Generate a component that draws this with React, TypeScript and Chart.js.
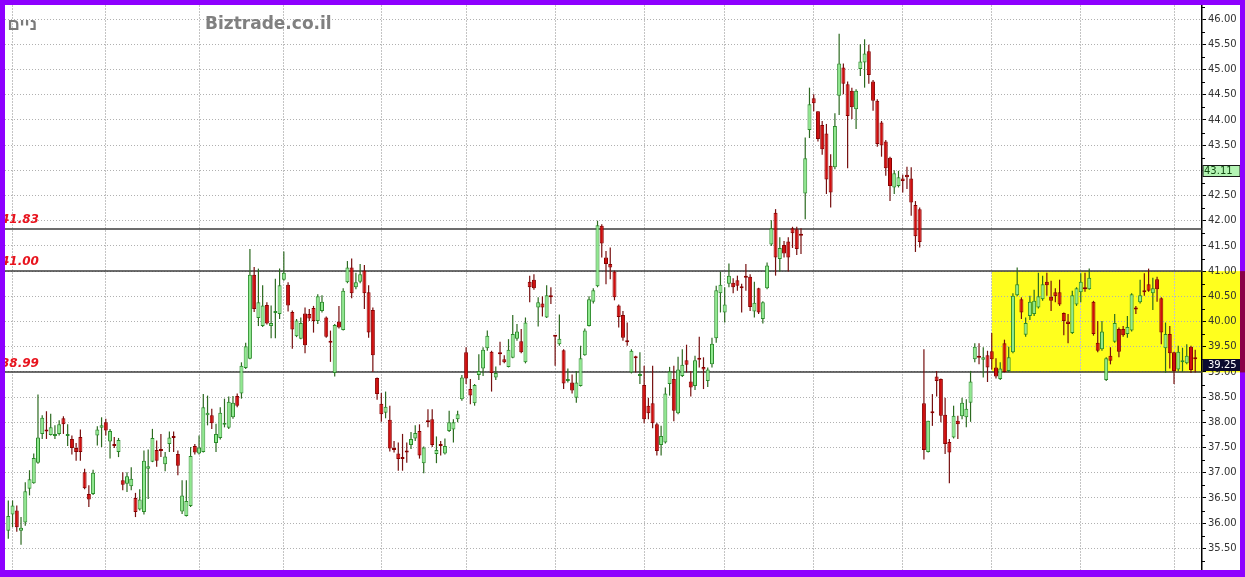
import { useEffect, useRef } from 'react';
import { Chart, registerables } from 'chart.js';

Chart.register(...registerables);

// Daily OHLC (index 0 = first session shown)
const opens = [
  35.85, 36.17, 36.25, 35.85, 36.01, 36.68, 36.79, 37.20, 37.77, 37.85, 37.75, 37.73, 37.77, 38.08, 37.73, 37.67, 37.49, 37.71, 37.01, 36.58,
  36.58, 37.74, 37.89, 38.00, 37.62, 37.56, 37.41, 36.85, 36.78, 36.73, 36.50, 36.27, 36.22, 37.08, 37.22, 37.45, 37.45, 37.17, 37.57, 37.70,
  37.37, 36.23, 36.14, 36.34, 37.53, 37.38, 37.41, 38.14, 38.14, 37.59, 37.69, 37.95, 37.89, 38.10, 38.52, 38.57, 39.08, 39.26, 40.93, 40.07,
  39.91, 40.33, 39.91, 40.17, 40.15, 40.83, 40.73, 40.19, 39.71, 39.66, 40.16, 40.15, 40.27, 40.01, 40.21, 40.08, 39.59, 38.98, 40.00, 39.83,
  40.78, 41.07, 40.68, 40.79, 41.01, 40.58, 40.23, 38.88, 38.37, 38.19, 38.05, 37.48, 37.38, 37.30, 37.41, 37.55, 37.68, 37.83, 37.19, 38.02,
  38.06, 37.37, 37.54, 37.38, 37.83, 37.86, 38.06, 38.46, 39.39, 38.66, 38.38, 38.94, 39.07, 39.47, 39.40, 38.89, 39.36, 39.25, 39.10, 39.28,
  39.66, 39.61, 39.19, 40.79, 40.83, 40.28, 40.36, 40.08, 40.49, 39.71, 39.55, 39.43, 38.82, 38.79, 38.49, 38.72, 39.33, 39.91, 40.39, 40.70,
  41.90, 41.27, 41.14, 40.99, 40.32, 40.13, 39.60, 38.99, 39.31, 38.92, 38.74, 38.33, 38.38, 37.96, 37.55, 37.60, 38.76, 38.86, 38.18, 38.92,
  39.23, 38.81, 38.72, 39.25, 39.10, 38.82, 39.15, 39.67, 40.56, 40.18, 40.75, 40.77, 40.82, 40.67, 40.91, 40.89, 40.20, 40.66, 40.05, 40.66,
  41.53, 42.16, 41.24, 41.52, 41.59, 41.85, 41.83, 41.71, 42.54, 43.80, 44.43, 44.17, 43.90, 43.73, 43.09, 43.06, 44.48, 45.04, 44.71, 44.58,
  44.21, 45.01, 45.14, 45.36, 44.76, 44.38, 43.95, 43.57, 43.25, 42.66, 42.69, 42.84, 42.91, 42.84, 42.31, 42.23, 38.38, 37.41, 38.19, 38.91,
  38.86, 38.15, 37.61, 37.70, 38.03, 38.12, 38.10, 38.39, 39.25, 39.29, 39.24, 39.33, 39.41, 39.09, 38.86, 39.57, 39.02, 39.39, 40.52, 40.44,
  39.74, 40.11, 40.15, 40.28, 40.44, 40.79, 40.49, 40.58, 40.58, 40.17, 40.00, 39.77, 40.34, 40.58, 40.65, 40.64, 40.39, 39.58, 39.45, 38.84,
  39.32, 39.60, 39.85, 39.85, 39.75, 39.82, 40.25, 40.38, 40.61, 40.74, 40.56, 40.84, 40.46, 39.47, 39.75, 39.39, 39.05, 39.19, 39.17, 39.50,
  39.26,
];
const highs = [
  36.45, 36.45, 36.35, 36.12, 36.81, 37.05, 37.38, 38.55, 38.14, 38.22, 38.17, 37.94, 38.04, 38.12, 37.96, 37.74, 37.59, 37.86, 37.08, 36.75,
  37.06, 37.92, 38.10, 38.07, 37.87, 37.71, 37.69, 37.01, 37.01, 37.11, 36.60, 36.67, 37.44, 37.46, 37.87, 37.64, 37.77, 37.41, 37.82, 37.82,
  37.44, 36.85, 36.85, 37.51, 37.57, 37.74, 38.56, 38.53, 38.27, 37.97, 38.30, 38.47, 38.51, 38.52, 38.57, 39.19, 39.58, 41.44, 41.08, 41.05,
  40.72, 40.38, 40.32, 40.85, 41.05, 41.39, 40.78, 40.22, 40.05, 40.08, 40.28, 40.25, 40.31, 40.54, 40.52, 40.10, 39.82, 39.95, 40.31, 40.66,
  41.20, 41.25, 40.97, 41.14, 41.12, 40.72, 40.28, 38.89, 38.58, 38.61, 38.33, 37.63, 37.60, 37.77, 37.60, 37.81, 37.94, 37.96, 37.52, 38.26,
  38.26, 37.72, 37.63, 37.68, 38.23, 38.06, 38.23, 38.94, 39.49, 38.86, 38.76, 39.35, 39.49, 39.82, 39.42, 39.11, 39.60, 39.33, 39.65, 40.13,
  39.95, 39.85, 40.08, 40.91, 40.94, 40.48, 40.50, 40.72, 40.68, 39.73, 40.14, 39.45, 39.07, 38.95, 39.02, 39.52, 39.86, 40.50, 40.66, 42.00,
  41.93, 41.40, 41.47, 41.01, 40.34, 40.21, 39.98, 39.45, 39.32, 39.39, 39.12, 38.49, 39.12, 37.99, 37.93, 38.69, 39.10, 39.12, 39.30, 39.45,
  39.54, 39.02, 39.32, 39.70, 39.29, 39.09, 39.68, 40.71, 40.99, 40.68, 41.15, 40.86, 40.91, 40.75, 41.14, 40.94, 40.79, 40.67, 40.40, 41.17,
  42.01, 42.23, 41.67, 41.60, 41.67, 41.88, 41.88, 41.85, 43.65, 44.64, 44.51, 44.17, 43.98, 43.92, 43.32, 44.13, 45.71, 45.12, 44.76, 44.64,
  44.61, 45.50, 45.60, 45.49, 44.79, 44.41, 43.98, 43.60, 43.27, 43.00, 42.99, 42.91, 43.07, 43.06, 42.39, 42.26, 39.45, 38.03, 38.56, 39.02,
  38.87, 38.49, 37.67, 38.33, 38.13, 38.49, 38.46, 39.02, 39.57, 39.57, 39.49, 39.42, 39.77, 39.27, 39.19, 39.64, 39.50, 40.56, 41.07, 40.48,
  40.08, 40.51, 40.63, 40.97, 40.91, 40.97, 40.81, 40.66, 40.83, 40.18, 40.15, 40.61, 40.68, 40.96, 40.97, 41.05, 40.41, 40.01, 40.01, 39.29,
  39.49, 40.15, 39.88, 39.91, 40.11, 40.56, 40.31, 40.83, 40.96, 41.05, 40.87, 40.89, 40.48, 39.98, 39.91, 39.40, 39.52, 39.48, 39.55, 39.52,
  39.44,
];
const lows = [
  35.69, 35.92, 35.83, 35.57, 35.95, 36.55, 36.78, 37.18, 37.67, 37.67, 37.74, 37.67, 37.74, 37.77, 37.53, 37.36, 37.24, 37.24, 36.67, 36.32,
  36.56, 37.54, 37.51, 37.74, 37.28, 37.49, 37.31, 36.65, 36.62, 36.65, 36.12, 36.25, 36.17, 36.48, 37.21, 37.12, 37.31, 37.03, 37.41, 37.41,
  36.95, 36.18, 36.13, 36.32, 37.36, 37.36, 37.40, 37.94, 37.87, 37.41, 37.66, 37.90, 37.87, 38.07, 38.30, 38.47, 39.06, 39.25, 40.19, 39.91,
  39.89, 39.94, 39.67, 39.67, 40.05, 40.81, 40.20, 39.46, 39.69, 39.65, 39.37, 40.01, 39.78, 39.95, 40.18, 39.68, 39.20, 38.91, 39.86, 39.82,
  40.76, 40.46, 40.64, 40.76, 40.25, 39.68, 39.00, 38.45, 38.01, 38.08, 37.42, 37.40, 37.04, 37.04, 37.20, 37.47, 37.63, 37.28, 36.99, 37.90,
  37.51, 37.19, 37.34, 37.36, 37.81, 37.60, 38.00, 38.43, 38.76, 38.36, 38.33, 38.84, 38.92, 39.42, 38.61, 38.84, 39.13, 39.17, 39.09, 39.27,
  39.62, 39.37, 39.17, 40.38, 40.63, 39.90, 40.10, 40.07, 40.35, 39.12, 39.52, 38.66, 38.79, 38.57, 38.39, 38.71, 39.32, 39.90, 40.36, 40.68,
  41.27, 40.74, 40.84, 40.42, 39.88, 39.62, 39.52, 38.97, 38.99, 38.76, 37.98, 38.06, 37.88, 37.34, 37.34, 37.58, 38.53, 38.02, 38.16, 38.90,
  38.99, 38.51, 38.64, 39.09, 38.66, 38.70, 39.09, 39.58, 40.18, 39.98, 40.68, 40.56, 40.61, 40.18, 40.61, 40.21, 40.08, 40.15, 39.96, 40.64,
  41.50, 40.91, 40.99, 41.27, 40.99, 41.46, 41.32, 41.34, 42.03, 43.64, 44.17, 43.57, 43.31, 42.53, 42.26, 43.02, 44.10, 44.51, 43.04, 44.02,
  43.82, 44.87, 44.64, 44.72, 44.18, 43.47, 43.27, 42.89, 42.39, 42.53, 42.66, 42.56, 42.63, 42.10, 41.38, 41.47, 37.26, 37.40, 37.93, 38.51,
  38.00, 37.37, 36.79, 37.68, 37.67, 38.06, 37.90, 38.01, 39.19, 39.15, 38.89, 38.80, 39.05, 38.87, 38.84, 38.99, 39.00, 39.37, 40.50, 40.05,
  39.70, 40.03, 40.11, 40.26, 40.41, 40.51, 40.21, 40.38, 40.31, 39.73, 39.57, 39.75, 40.31, 40.38, 40.59, 40.63, 39.72, 39.39, 39.42, 38.82,
  39.15, 39.58, 39.29, 39.70, 39.68, 39.80, 40.15, 40.36, 40.51, 40.59, 40.23, 40.39, 39.55, 38.98, 39.07, 38.76, 39.02, 39.00, 39.15, 38.98,
  38.99,
];
const closes = [
  36.14, 36.35, 35.92, 35.91, 36.63, 36.87, 37.29, 37.70, 38.09, 37.82, 37.90, 37.77, 37.96, 37.96, 37.75, 37.49, 37.41, 37.41, 36.69, 36.47,
  37.00, 37.86, 37.94, 37.84, 37.83, 37.53, 37.65, 36.76, 36.93, 36.88, 36.22, 36.47, 37.24, 37.13, 37.69, 37.24, 37.43, 37.32, 37.70, 37.69,
  37.14, 36.55, 36.44, 37.33, 37.40, 37.50, 38.30, 38.19, 37.98, 37.77, 38.19, 37.98, 38.41, 38.39, 38.33, 39.12, 39.51, 40.93, 40.25, 40.38,
  40.32, 39.96, 39.97, 40.20, 40.72, 40.97, 40.32, 39.84, 40.02, 39.97, 39.53, 40.06, 40.01, 40.50, 40.39, 39.70, 39.58, 39.93, 39.88, 40.61,
  41.07, 40.56, 40.78, 40.94, 40.56, 39.78, 39.33, 38.56, 38.16, 38.31, 37.48, 37.45, 37.27, 37.27, 37.40, 37.67, 37.79, 37.34, 37.50, 38.00,
  37.55, 37.45, 37.53, 37.53, 38.00, 38.00, 38.16, 38.89, 38.87, 38.53, 38.74, 39.02, 39.44, 39.72, 38.98, 38.98, 39.35, 39.19, 39.44, 39.75,
  39.80, 39.39, 39.98, 40.68, 40.66, 40.38, 40.28, 40.52, 40.48, 39.70, 39.66, 38.77, 38.84, 38.63, 38.79, 39.27, 39.82, 40.44, 40.62, 41.91,
  41.55, 41.14, 41.07, 40.48, 40.09, 39.68, 39.59, 39.42, 39.27, 38.96, 38.06, 38.18, 37.98, 37.43, 37.73, 38.57, 39.01, 38.23, 39.05, 39.14,
  39.14, 38.69, 39.23, 39.24, 39.05, 39.05, 39.56, 40.62, 40.73, 40.34, 40.91, 40.68, 40.71, 40.66, 40.87, 40.29, 40.37, 40.18, 40.38, 41.11,
  41.85, 41.27, 41.46, 41.35, 41.27, 41.75, 41.44, 41.70, 43.24, 44.31, 44.33, 43.62, 43.42, 42.82, 42.56, 43.88, 45.12, 44.72, 44.08, 44.25,
  44.58, 45.16, 45.32, 44.89, 44.38, 43.52, 43.49, 43.04, 42.69, 42.94, 42.86, 42.79, 42.86, 42.36, 41.69, 41.58, 37.45, 38.03, 38.18, 38.82,
  38.13, 37.57, 37.40, 38.13, 37.96, 38.39, 38.27, 38.81, 39.50, 39.28, 39.29, 39.09, 39.25, 38.91, 39.07, 39.00, 39.29, 40.51, 40.74, 40.18,
  39.97, 40.39, 40.41, 40.50, 40.74, 40.72, 40.41, 40.50, 40.34, 40.01, 39.95, 40.52, 40.66, 40.79, 40.64, 40.87, 39.75, 39.42, 39.80, 39.27,
  39.22, 39.97, 39.40, 39.73, 39.89, 40.54, 40.24, 40.52, 40.58, 40.61, 40.66, 40.64, 39.78, 39.75, 39.37, 39.02, 39.40, 39.21, 39.32, 39.04,
  39.25,
];

// First session of each month (vertical grid lines)
const monthStarts = [1, 23, 45, 65, 88, 108, 129, 150, 169, 190, 211, 232, 253, 275];

// Price axis
const yTicks = [35.5, 36, 36.5, 37, 37.5, 38, 38.5, 39, 39.5, 40, 40.5, 41, 41.5, 42, 42.5, 43, 43.5, 44, 44.5, 45, 45.5, 46];
const yMinorTicks = [35.25, 35.75, 36.25, 36.75, 37.25, 37.75, 38.25, 38.75, 39.25, 39.75, 40.25, 40.75, 41.25, 41.75, 42.25, 42.75, 43.25, 43.75, 44.25, 44.75, 45.25, 45.75, 46.25];

// Support / resistance levels
const levels = [41.83, 41.0, 38.99];
const levelLabels = ['41.83', '41.00', '38.99'];

// Highlighted trading range
const rangeStart = 232;
const rangeTop = 41.0;
const rangeBottom = 38.99;

// Price tags on the axis
const markerPrice = 43.11;
const lastPrice = 39.25;

const siteLabel = 'Biztrade.co.il';
const nameLabel = 'ניים';

const GREEN_FILL = '#8fe98f';
const GREEN_EDGE = '#2a8c2a';
const GREEN_WICK = '#2c6a20';
const RED_FILL = '#d00d0d';
const RED_EDGE = '#8a0000';
const RED_WICK = '#760f0f';
const PURPLE = '#8e00ff';

export default function App() {
  const ref = useRef<HTMLCanvasElement | null>(null);

  useEffect(() => {
    const canvas = ref.current;
    if (!canvas) return;

    const up = closes.map((c, i) => c >= opens[i]);
    const bodyData = opens.map((o, i) => ({ x: i, y: [o, closes[i]] }));
    const wickData = lows.map((l, i) => ({ x: i, y: [l, highs[i]] }));

    const decor = {
      id: 'decor',
      beforeDraw(chart: any) {
        const { ctx, scales } = chart;
        const x = scales.x;
        const y = scales.y;
        ctx.save();
        ctx.fillStyle = '#ffffff';
        ctx.fillRect(0, 0, chart.width, chart.height);
        const x0 = x.getPixelForValue(rangeStart);
        const yt = y.getPixelForValue(rangeTop);
        const yb = y.getPixelForValue(rangeBottom);
        ctx.fillStyle = '#ffff1e';
        ctx.fillRect(x0, yt, chart.width - x0, yb - yt);
        ctx.restore();
      },
      beforeDatasetsDraw(chart: any) {
        const { ctx, chartArea, scales } = chart;
        const y = scales.y;
        ctx.save();
        ctx.strokeStyle = '#3c3c3c';
        ctx.lineWidth = 1.5;
        levels.forEach((lv) => {
          const py = Math.round(y.getPixelForValue(lv));
          ctx.beginPath();
          ctx.moveTo(chartArea.left, py);
          ctx.lineTo(chartArea.right, py);
          ctx.stroke();
        });
        ctx.restore();
      },
      afterDraw(chart: any) {
        const { ctx, chartArea, scales } = chart;
        const y = scales.y;
        const W = chart.width;
        const H = chart.height;
        ctx.save();

        // minor ticks on the price axis
        ctx.strokeStyle = '#000';
        ctx.lineWidth = 1;
        yMinorTicks.forEach((v) => {
          const py = Math.round(y.getPixelForValue(v)) + 0.5;
          ctx.beginPath();
          ctx.moveTo(chartArea.right, py);
          ctx.lineTo(chartArea.right + 3, py);
          ctx.stroke();
        });

        // level labels
        ctx.fillStyle = '#e8141e';
        ctx.font = 'italic bold 12px "DejaVu Sans"';
        ctx.textAlign = 'left';
        ctx.textBaseline = 'middle';
        levels.forEach((lv, i) => {
          const py = y.getPixelForValue(lv);
          ctx.fillText(levelLabels[i], 1, py - 9);
        });

        // header texts
        ctx.fillStyle = '#808080';
        ctx.font = 'bold 17px "DejaVu Sans"';
        ctx.textAlign = 'left';
        ctx.fillText(siteLabel, 205, 25);
        ctx.fillStyle = '#7a7a7a';
        ctx.font = 'bold 17px "Liberation Sans"';
        ctx.textAlign = 'right';
        ctx.fillText(nameLabel, 37, 25);

        // price tags
        const tag = (value: number, fill: string, edge: string, color: string, tx: number) => {
          const top = Math.round(y.getPixelForValue(value)) + 0.5;
          const h = 11;
          const left = chartArea.right + 1;
          ctx.fillStyle = fill;
          ctx.fillRect(left, top, W - 5 - left, h);
          ctx.strokeStyle = edge;
          ctx.lineWidth = 1;
          ctx.strokeRect(left, top, W - 5 - left, h);
          ctx.fillStyle = color;
          ctx.font = '10px "DejaVu Sans"';
          ctx.textAlign = 'left';
          ctx.textBaseline = 'middle';
          ctx.fillText(value.toFixed(2), tx, top + h / 2 + 0.5);
        };
        tag(markerPrice, '#b4f4b4', '#1a1a1a', '#124a12', chartArea.right + 2);
        tag(lastPrice, '#0c0c30', '#0c0c30', '#ffffff', chartArea.right + 6);

        // frame
        ctx.fillStyle = PURPLE;
        ctx.fillRect(0, 0, W, 5);
        ctx.fillRect(0, 0, 5, H);
        ctx.fillRect(W - 5, 0, 5, H);
        ctx.fillRect(0, H - 7, W, 7);
        const yt = y.getPixelForValue(rangeTop);
        const yb = y.getPixelForValue(rangeBottom);
        ctx.fillStyle = '#8a0048';
        ctx.fillRect(W - 5, yt, 5, yb - yt);
        ctx.restore();
      },
    };

    const chart = new Chart(canvas, {
      type: 'bar',
      data: {
        datasets: [
          {
            label: 'body',
            data: bodyData as any,
            backgroundColor: up.map((u) => (u ? GREEN_FILL : RED_FILL)),
            borderColor: up.map((u) => (u ? GREEN_EDGE : RED_EDGE)),
            borderWidth: 1,
            borderSkipped: false,
            grouped: false,
            barThickness: 4,
            minBarLength: 2,
            inflateAmount: 0,
            order: 0,
          } as any,
          {
            label: 'wick',
            data: wickData as any,
            backgroundColor: up.map((u) => (u ? GREEN_WICK : RED_WICK)),
            borderWidth: 0,
            grouped: false,
            barThickness: 1.2,
            inflateAmount: 0,
            order: 1,
          } as any,
        ],
      },
      options: {
        responsive: false,
        animation: false,
        devicePixelRatio: 1,
        events: [],
        layout: { padding: { left: 5, top: 5, right: 0, bottom: 7 } },
        plugins: {
          legend: { display: false },
          tooltip: { enabled: false },
          title: { display: false },
        },
        scales: {
          x: {
            type: 'linear',
            offset: false,
            min: -0.78,
            max: 281.6,
            afterBuildTicks: (s: any) => {
              s.ticks = monthStarts.map((v) => ({ value: v }));
            },
            afterFit: (s: any) => {
              s.height = 0;
              s.paddingLeft = 0;
              s.paddingRight = 0;
            },
            ticks: { display: false },
            grid: { color: '#c4c4c4', drawTicks: false, lineWidth: 1, offset: false },
            border: { display: false, dash: [2, 1] },
          },
          y: {
            type: 'linear',
            position: 'right',
            min: 35.07,
            max: 46.28,
            afterBuildTicks: (s: any) => {
              s.ticks = yTicks.map((v) => ({ value: v }));
            },
            afterFit: (s: any) => {
              s.width = 43;
              s.paddingTop = 0;
              s.paddingBottom = 0;
            },
            ticks: {
              autoSkip: false,
              padding: 2,
              color: '#333333',
              font: { family: 'DejaVu Sans', size: 10 },
              callback: (v: any) => Number(v).toFixed(2),
            },
            grid: { color: '#b0b0b0', lineWidth: 1, tickLength: 4, tickColor: '#000', drawTicks: true },
            border: { display: true, color: '#000', width: 1.5, dash: [1, 2] },
          },
        },
      },
      plugins: [decor],
    } as any);

    return () => chart.destroy();
  }, []);

  return (
    <div style={{ position: 'fixed', left: 0, top: 0, width: 1245, height: 577, background: '#fff' }}>
      <canvas ref={ref} width={1245} height={577} style={{ display: 'block', width: 1245, height: 577 }} />
    </div>
  );
}
